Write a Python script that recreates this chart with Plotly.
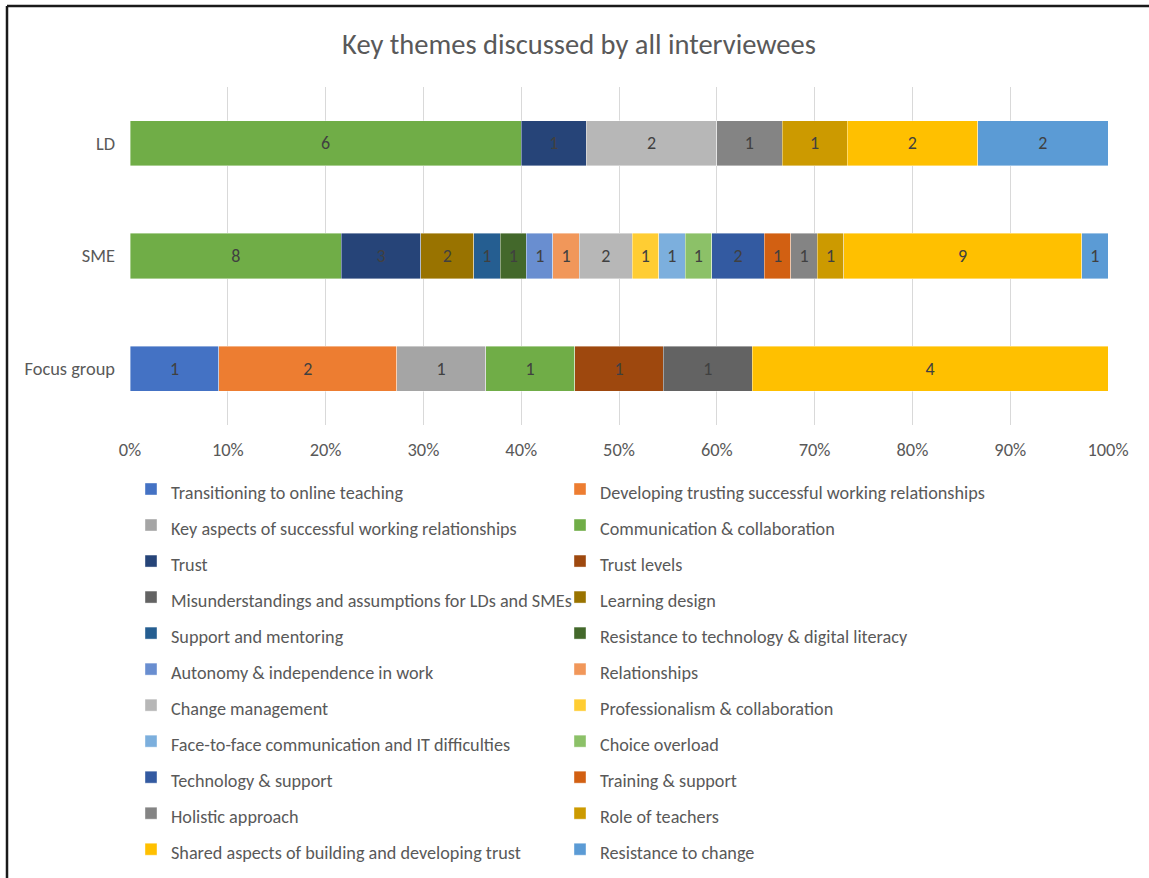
import plotly.graph_objects as go

categories = ["LD", "SME", "Focus group"]

series_names = [
    "Transitioning to online teaching",
    "Developing trusting successful working relationships",
    "Key aspects of successful working relationships",
    "Communication & collaboration",
    "Trust",
    "Trust levels",
    "Misunderstandings and assumptions for LDs and SMEs",
    "Learning design",
    "Support and mentoring",
    "Resistance to technology & digital literacy",
    "Autonomy & independence in work",
    "Relationships",
    "Change management",
    "Professionalism & collaboration",
    "Face-to-face communication and IT difficulties",
    "Choice overload",
    "Technology & support",
    "Training & support",
    "Holistic approach",
    "Role of teachers",
    "Shared aspects of building and developing trust",
    "Resistance to change",
]

# values per series: [LD, SME, Focus group]
transitioning = [None, None, 1]
developing = [None, None, 2]
key_aspects = [None, None, 1]
communication = [6, 8, 1]
trust = [1, 3, None]
trust_levels = [None, None, 1]
misunderstandings = [None, None, 1]
learning_design = [None, 2, None]
support_mentoring = [None, 1, None]
resistance_tech = [None, 1, None]
autonomy = [None, 1, None]
relationships = [None, 1, None]
change_management = [2, 2, None]
professionalism = [None, 1, None]
face_to_face = [None, 1, None]
choice_overload = [None, 1, None]
technology_support = [None, 2, None]
training_support = [None, 1, None]
holistic = [1, 1, None]
role_teachers = [1, 1, None]
shared_aspects = [2, 9, 4]
resistance_change = [2, 1, None]

series_values = [
    transitioning, developing, key_aspects, communication, trust, trust_levels,
    misunderstandings, learning_design, support_mentoring, resistance_tech,
    autonomy, relationships, change_management, professionalism, face_to_face,
    choice_overload, technology_support, training_support, holistic,
    role_teachers, shared_aspects, resistance_change,
]

colors = [
    "#4472C4", "#ED7D31", "#A5A5A5", "#70AD47", "#264478", "#9E480E",
    "#636363", "#997300", "#255E91", "#43682B", "#698ED0", "#F1975A",
    "#B7B7B7", "#FFCD33", "#7CAFDD", "#8CC168", "#335AA1", "#D26012",
    "#848484", "#CC9A00", "#FFC000", "#5B9BD5",
]

FONT = "Calibri, Carlito, Lato, sans-serif"
TXT = "#595959"

fig = go.Figure()
for name, vals, col in zip(series_names, series_values, colors):
    fig.add_trace(go.Bar(
        y=categories,
        x=vals,
        name=f'<span style="font-size:18.2px">{name}</span>',
        orientation="h",
        marker=dict(color=col, line=dict(color="rgba(255,255,255,0.5)", width=0.8)),
        text=[str(v) if v else "" for v in vals],
        textposition="inside",
        insidetextanchor="middle",
        textangle=0,
        constraintext="none",
        textfont=dict(family=FONT, size=18, color="#404040"),
        hoverinfo="name+x",
    ))

L, R, T, B = 130, 41, 87, 453
W, H = 1149, 878
pw, ph = W - L - R, H - T - B

def px_x(p):
    return (p - L) / pw

def px_y(p):
    return (H - B - p) / ph

fig.update_layout(
    width=W, height=H,
    barmode="stack",
    barnorm="percent",
    bargap=0.6,
    paper_bgcolor="white",
    plot_bgcolor="white",
    margin=dict(l=L, r=R, t=T, b=B, autoexpand=False),
    font=dict(family=FONT, color=TXT, size=18),
    title=dict(
        text="Key themes discussed by all interviewees",
        x=579 / W, xanchor="center", xref="container",
        y=1 - 44 / H, yanchor="middle", yref="container",
        font=dict(size=28.5, color=TXT, family=FONT),
    ),
    xaxis=dict(
        range=[0, 100], dtick=10, ticksuffix="%",
        showgrid=True, gridcolor="#D9D9D9", gridwidth=1,
        zeroline=False, showline=False, ticks="",
        ticklabelstandoff=12,
        tickfont=dict(size=18.4, color=TXT),
        fixedrange=True,
    ),
    yaxis=dict(
        autorange="reversed",
        showgrid=False, zeroline=False, showline=False, ticks="",
        ticklabelstandoff=14,
        tickfont=dict(size=18.4, color=TXT),
        fixedrange=True,
    ),
    legend=dict(
        orientation="h",
        x=px_x(131), xanchor="left",
        y=px_y(466), yanchor="top",
        traceorder="normal",
        entrywidth=384, entrywidthmode="pixels",
        font=dict(size=25.4, color=TXT, family=FONT),
        bgcolor="rgba(0,0,0,0)",
    ),
    showlegend=True,
    shapes=[
        dict(type="line", xref="paper", yref="paper",
             x0=px_x(7), x1=px_x(W + 5), y0=px_y(6), y1=px_y(6),
             line=dict(color="#1a1a1a", width=2.5)),
        dict(type="line", xref="paper", yref="paper",
             x0=px_x(7), x1=px_x(7), y0=px_y(6), y1=px_y(H + 5),
             line=dict(color="#1a1a1a", width=2.5)),
    ],
)

fig.write_html(
    "out.html",
    config={"displayModeBar": False},
    post_script="document.body.style.margin='0';document.body.style.overflow='hidden';",
)
